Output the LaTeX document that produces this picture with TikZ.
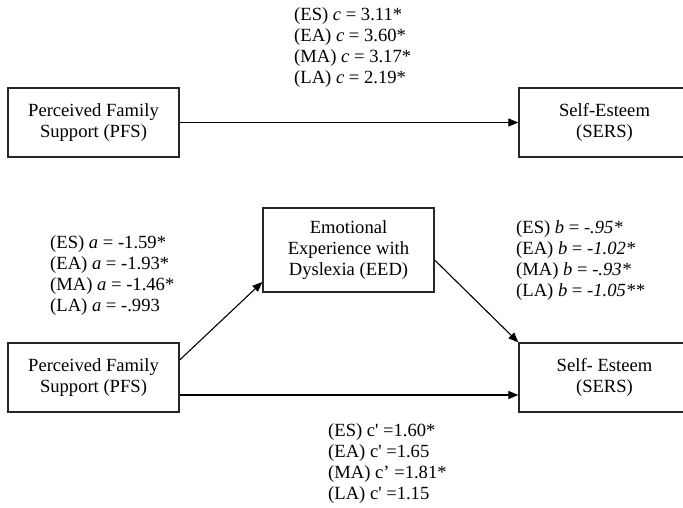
\documentclass[tikz,border=0pt]{standalone}
\usepackage{fontspec}
\setmainfont{Liberation Serif}
\newfontfamily\nolig{Liberation Serif}
\usetikzlibrary{arrows.meta}
\newcommand\lblfont{\fontsize{18.6}{21}\selectfont}
\begin{document}
\begin{tikzpicture}[x=1pt,y=-1pt,
  box/.style={draw=black!85, line width=1.3pt, minimum width=171pt, inner sep=0pt, align=center, font=\lblfont},
  arr/.style={-{Triangle[length=10pt,width=8pt]}, line width=1.1pt, black},
  lbl/.style={anchor=west, align=left, inner sep=0pt, font=\lblfont}]
\fill[white] (0,0) rectangle (683,507);
\useasboundingbox (0,0) rectangle (683,507);
% boxes
\node[box, minimum height=69pt] (pfsA) at (93.5,122.5) {Perceived Family\\Support (PFS)};
\node[box, minimum height=69pt] (sersA) at (604.5,122.5) {Self-Esteem\\(SERS)};
\node[box, minimum height=84pt] (eed) at (348.5,250) {Emotional\\Experience with\\Dyslexia (EED)};
\node[box, minimum height=69pt] (pfsB) at (93.5,377.5) {Perceived Family\\Support (PFS)};
\node[box, minimum height=69pt] (sersB) at (604.5,377.5) {Self- Esteem\\(SERS)};
% helper coordinates
\coordinate (h) at (0,395);
\coordinate (d1) at (0,360);
\coordinate (d2) at (0,282);
\coordinate (d3) at (0,260);
% connectors
\draw[arr] (pfsA) -- (sersA);
\draw[arr] (pfsB.east |- h) -- (sersB.west |- h);
\draw[arr] (pfsB.east |- d1) -- (eed.west |- d2);
\draw[arr] (eed.east |- d3) -- (sersB.north west);
% labels
\node[lbl] (lc) at (294,47.5) {(ES) \textit{c} = 3.11*\\(EA) \textit{c} = 3.60*\\(MA) \textit{c} = 3.17*\\(LA) \textit{c} = 2.19*};
\node[lbl] (la) at (50,276) {(ES) \textit{a} = -1.59*\\(EA) \textit{a} = -1.93*\\(MA) \textit{a} = -1.46*\\(LA) \textit{a} = -.993};
\node[lbl] (lb) at (516,261) {(ES) \textit{b} = \textit{-.95*}\\(EA) \textit{b} = \textit{-1.02*}\\(MA) \textit{b} = \textit{-.93*}\\(LA) \textit{b} = \textit{-1.05**}};
\node[lbl] (lcp) at (328,464) {(ES) c{\nolig '} =1.60*\\(EA) c{\nolig '} =1.65\\(MA) c’ =1.81*\\(LA) c{\nolig '} =1.15};
\end{tikzpicture}
\end{document}
